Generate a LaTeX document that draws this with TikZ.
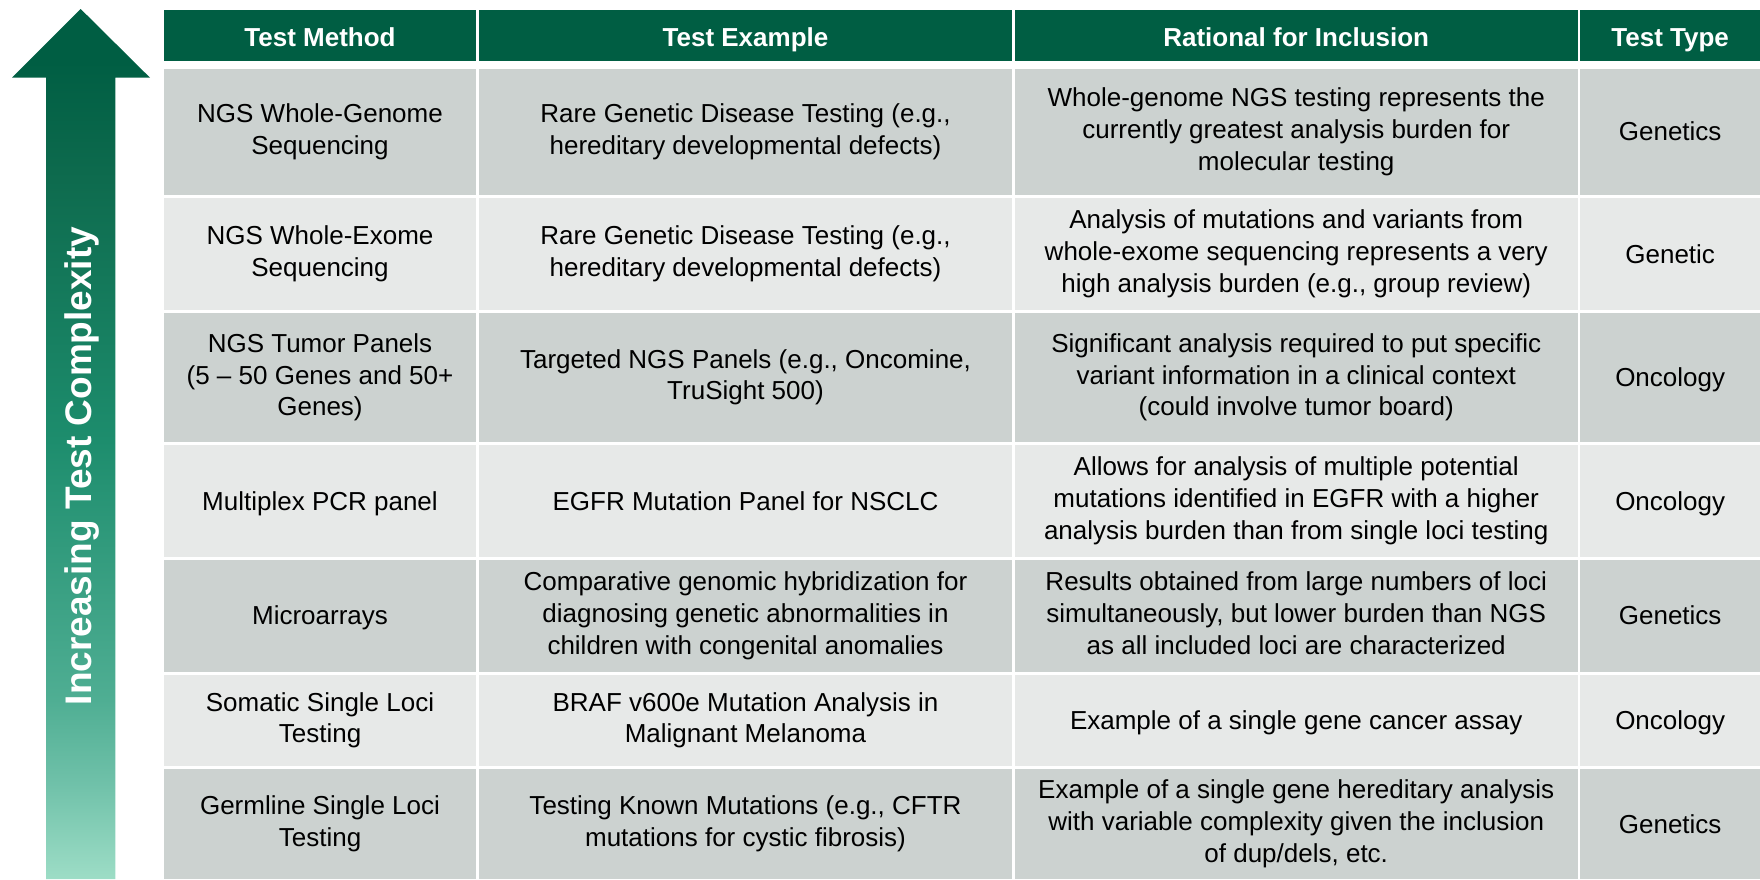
\documentclass[tikz,border=0pt]{standalone}
\usepackage{fontspec}
\setmainfont{Liberation Sans}
\definecolor{hdrgreen}{HTML}{005E43}
\definecolor{rowdark}{HTML}{CCD2D0}
\definecolor{rowlight}{HTML}{E7E9E8}
\definecolor{ac0}{HTML}{9DDDC6}
\definecolor{ac1}{HTML}{6EC0A8}
\definecolor{ac2}{HTML}{4FAE93}
\definecolor{ac3}{HTML}{1D8D6D}
\definecolor{ac4}{HTML}{0E6B4E}
\definecolor{ac5}{HTML}{005E43}
\pgfdeclareverticalshading{arrowshade}{100bp}{color(0bp)=(ac0); color(25bp)=(ac0); color(30.7bp)=(ac1); color(35.3bp)=(ac2); color(50.2bp)=(ac3); color(65.2bp)=(ac4); color(72bp)=(ac5); color(100bp)=(ac5)}
\newcommand\linestrut{\rule[-0.212em]{0pt}{1.117em}}
\newcommand\hdrstrut{\rule[-0.212em]{0pt}{1.297em}}
\newcommand\tcell[7]{%
  \pgfmathsetmacro\cw{#3-#2}\pgfmathsetmacro\ch{#5-#4}%
  \pgfmathsetmacro\cx{(#2+#3)/2}\pgfmathsetmacro\cy{(#4+#5)/2}%
  \node[#6, minimum width=\cw pt, minimum height=\ch pt] (#1) at (\cx,\cy) {#7};}
\begin{document}
\begin{tikzpicture}[x=1pt,y=-1pt,
  cellbase/.style={inner sep=0pt, outer sep=0pt, align=center, text=black,
    font=\fontsize{26}{31.7}\selectfont},
  cell/.style={cellbase,
    execute at begin node=\linestrut, execute at end node=\linestrut},
  hdr/.style={cellbase, fill=hdrgreen, text=white, font=\bfseries\fontsize{26}{31.7}\selectfont,
    execute at begin node=\hdrstrut, execute at end node=\hdrstrut},
  dk/.style={cell, fill=rowdark},
  lt/.style={cell, fill=rowlight}]
\useasboundingbox (0,0) rectangle (1760,879);
% columns
\def\ao{164}\def\at{476}
\def\bo{479}\def\bt{1012}
\def\co{1014.7}\def\ct{1577.7}
\def\do{1580.3}\def\dt{1760}
% arrow
\path[shading=arrowshade] (80.7,9) -- (150,77.7) -- (115.3,77.7) -- (115.3,879) -- (46,879) -- (46,77.7) -- (12,77.7) -- cycle;
\node[rotate=90, text=white, inner sep=0pt, font=\bfseries\fontsize{37}{40}\selectfont] (lbl) at (82,466) {Increasing Test Complexity};
% header
\tcell{h1}{\ao}{\at}{10}{60.7}{hdr}{Test Method}
\tcell{h2}{\bo}{\bt}{10}{60.7}{hdr}{Test Example}
\tcell{h3}{\co}{\ct}{10}{60.7}{hdr}{Rational for Inclusion}
\tcell{h4}{\do}{\dt}{10}{60.7}{hdr}{Test Type}
% row 1
\tcell{r1a}{\ao}{\at}{68.7}{195}{dk}{NGS Whole-Genome\\Sequencing}
\tcell{r1b}{\bo}{\bt}{68.7}{195}{dk}{Rare Genetic Disease Testing (e.g.,\\hereditary developmental defects)}
\tcell{r1c}{\co}{\ct}{68.7}{195}{dk}{Whole-genome NGS testing represents the\\currently greatest analysis burden for\\molecular testing}
\tcell{r1d}{\do}{\dt}{68.7}{195}{dk}{Genetics}
% row 2
\tcell{r2a}{\ao}{\at}{198}{310}{lt}{NGS Whole-Exome\\Sequencing}
\tcell{r2b}{\bo}{\bt}{198}{310}{lt}{Rare Genetic Disease Testing (e.g.,\\hereditary developmental defects)}
\tcell{r2c}{\co}{\ct}{198}{310}{lt}{Analysis of mutations and variants from\\whole-exome sequencing represents a very\\high analysis burden (e.g., group review)}
\tcell{r2d}{\do}{\dt}{198}{310}{lt}{Genetic}
% row 3
\tcell{r3a}{\ao}{\at}{313}{441.7}{dk}{NGS Tumor Panels\\(5 – 50 Genes and 50+\\Genes)}
\tcell{r3b}{\bo}{\bt}{313}{441.7}{dk}{Targeted NGS Panels (e.g., Oncomine,\\TruSight 500)}
\tcell{r3c}{\co}{\ct}{313}{441.7}{dk}{Significant analysis required to put specific\\variant information in a clinical context\\(could involve tumor board)}
\tcell{r3d}{\do}{\dt}{313}{441.7}{dk}{Oncology}
% row 4
\tcell{r4a}{\ao}{\at}{444.7}{557.3}{lt}{Multiplex PCR panel}
\tcell{r4b}{\bo}{\bt}{444.7}{557.3}{lt}{EGFR Mutation Panel for NSCLC}
\tcell{r4c}{\co}{\ct}{444.7}{557.3}{lt}{Allows for analysis of multiple potential\\mutations identified in EGFR with a higher\\analysis burden than from single loci testing}
\tcell{r4d}{\do}{\dt}{444.7}{557.3}{lt}{Oncology}
% row 5
\tcell{r5a}{\ao}{\at}{560}{671.7}{dk}{Microarrays}
\tcell{r5b}{\bo}{\bt}{560}{671.7}{dk}{Comparative genomic hybridization for\\diagnosing genetic abnormalities in\\children with congenital anomalies}
\tcell{r5c}{\co}{\ct}{560}{671.7}{dk}{Results obtained from large numbers of loci\\simultaneously, but lower burden than NGS\\as all included loci are characterized}
\tcell{r5d}{\do}{\dt}{560}{671.7}{dk}{Genetics}
% row 6
\tcell{r6a}{\ao}{\at}{675}{765.7}{lt}{Somatic Single Loci\\Testing}
\tcell{r6b}{\bo}{\bt}{675}{765.7}{lt}{BRAF v600e Mutation Analysis in\\Malignant Melanoma}
\tcell{r6c}{\co}{\ct}{675}{765.7}{lt}{Example of a single gene cancer assay}
\tcell{r6d}{\do}{\dt}{675}{765.7}{lt}{Oncology}
% row 7
\tcell{r7a}{\ao}{\at}{769}{879}{dk}{Germline Single Loci\\Testing}
\tcell{r7b}{\bo}{\bt}{769}{879}{dk}{Testing Known Mutations (e.g., CFTR\\mutations for cystic fibrosis)}
\tcell{r7c}{\co}{\ct}{769}{879}{dk}{Example of a single gene hereditary analysis\\with variable complexity given the inclusion\\of dup/dels, etc.}
\tcell{r7d}{\do}{\dt}{769}{879}{dk}{Genetics}
\end{tikzpicture}
\end{document}
